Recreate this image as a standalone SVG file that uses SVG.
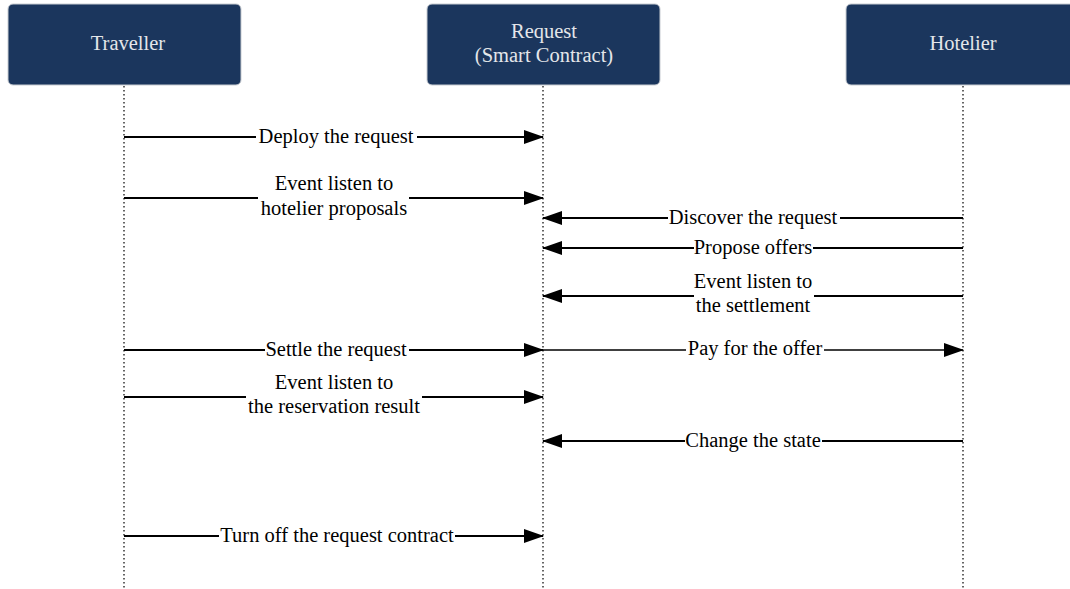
<svg xmlns="http://www.w3.org/2000/svg" width="1070" height="589" viewBox="0 0 1070 589">
<style>
.box{fill:#1b365d;stroke:#c8ccd2;stroke-width:1}
.hd{font-family:"Liberation Serif",serif;font-size:20.5px;fill:#e4e6ea;text-anchor:middle}
.life{stroke:#333;stroke-width:1.5;stroke-dasharray:1.5 2.5;fill:none}
.msg{stroke:#000;stroke-width:2;fill:none;marker-end:url(#ah)}
.bg{fill:#fff}
.lb{font-family:"Liberation Serif",serif;font-size:20.5px;fill:#000;text-anchor:middle}
</style>
<defs>
<marker id="ah" markerWidth="20" markerHeight="14" refX="19" refY="7" orient="auto" markerUnits="userSpaceOnUse">
<path d="M0,0 L20,7 L0,14 Z" fill="#000"/>
</marker>
</defs>
<rect width="1070" height="589" fill="#fff"/>
<g id="lifelines">
<line class="life" x1="124" y1="86" x2="124" y2="589"/>
<line class="life" x1="543" y1="86" x2="543" y2="589"/>
<line class="life" x1="963" y1="86" x2="963" y2="589"/>
</g>
<g id="traveller">
<rect class="box" x="8" y="4" width="233" height="81" rx="5"/>
<text class="hd" x="128" y="50">Traveller</text>
</g>
<g id="request">
<rect class="box" x="427" y="4" width="233" height="81" rx="5"/>
<text class="hd" x="544" y="38">Request</text>
<text class="hd" x="544" y="62">(Smart Contract)</text>
</g>
<g id="hotelier">
<rect class="box" x="846" y="4" width="233" height="81" rx="5"/>
<text class="hd" x="963" y="50">Hotelier</text>
</g>
<g id="connectors">
<line class="msg" x1="124" y1="137" x2="543" y2="137"/>
<line class="msg" x1="124" y1="198" x2="543" y2="198"/>
<line class="msg" x1="963" y1="218" x2="543" y2="218"/>
<line class="msg" x1="963" y1="248" x2="543" y2="248"/>
<line class="msg" x1="963" y1="296" x2="543" y2="296"/>
<line class="msg" x1="124" y1="350" x2="543" y2="350"/>
<line class="msg" x1="543" y1="350" x2="963" y2="350" style="stroke-width:1.5"/>
<line class="msg" x1="124" y1="397" x2="543" y2="397"/>
<line class="msg" x1="963" y1="441" x2="543" y2="441"/>
<line class="msg" x1="124" y1="536" x2="543" y2="536"/>
</g>
<g id="labels">
<rect class="bg" x="256" y="130" width="161" height="14"/>
<text class="lb" x="336" y="143">Deploy the request</text>
<rect class="bg" x="258" y="191" width="151" height="14"/>
<text class="lb" x="334" y="190">Event listen to</text>
<text class="lb" x="334" y="215">hotelier proposals</text>
<rect class="bg" x="668" y="211" width="172" height="14"/>
<text class="lb" x="753" y="224">Discover the request</text>
<rect class="bg" x="694" y="241" width="119" height="14"/>
<text class="lb" x="753" y="254">Propose offers</text>
<rect class="bg" x="694" y="289" width="120" height="14"/>
<text class="lb" x="753" y="288">Event listen to</text>
<text class="lb" x="753" y="312">the settlement</text>
<rect class="bg" x="265" y="343" width="144" height="14"/>
<text class="lb" x="336" y="356">Settle the request</text>
<rect class="bg" x="686" y="343" width="138" height="14"/>
<text class="lb" x="755" y="355">Pay for the offer</text>
<rect class="bg" x="246" y="390" width="176" height="14"/>
<text class="lb" x="334" y="389">Event listen to</text>
<text class="lb" x="334" y="413">the reservation result</text>
<rect class="bg" x="685" y="434" width="137" height="14"/>
<text class="lb" x="753" y="447">Change the state</text>
<rect class="bg" x="219" y="529" width="236" height="14"/>
<text class="lb" x="337" y="542">Turn off the request contract</text>
</g>
</svg>
